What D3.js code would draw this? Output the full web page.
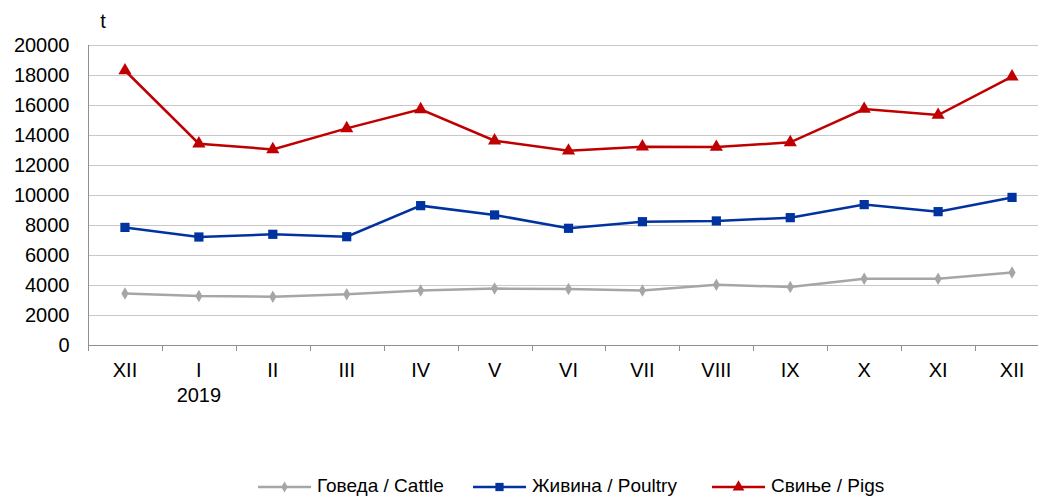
<!DOCTYPE html>
<html><head><meta charset="utf-8">
<script src="https://cdn.jsdelivr.net/npm/d3@7"></script>
<style>body{margin:0;background:#fff}svg{display:block;font-family:"Liberation Sans",Arial,sans-serif}</style>
</head><body><svg id="c" width="1038" height="497"></svg>
<script>
const categories = ["XII","I","II","III","IV","V","VI","VII","VIII","IX","X","XI","XII"];
const cattle  = [3440,3270,3220,3380,3640,3760,3730,3640,4020,3870,4420,4420,4840];
const poultry = [7840,7200,7380,7220,9290,8670,7780,8220,8270,8490,9360,8890,9840];
const pigs    = [18300,13420,13040,14440,15710,13620,12950,13220,13200,13510,15730,15330,17890];
const yTicks  = [0,2000,4000,6000,8000,10000,12000,14000,16000,18000,20000];
const seriesNames = ["Говеда / Cattle","Живина / Poultry","Свиње / Pigs"];

(function(){
const svg = d3.select("#c");
const pL = 88, pR = 1049, pT = 45, pB = 345;
const x = d3.scaleBand().domain(d3.range(categories.length)).range([pL, pR]);
const y = d3.scaleLinear().domain([0,20000]).range([pB, pT]);

const series = [
  {name: seriesNames[0], values: cattle, color: "#A6A6A6", symbol: d3.symbolDiamond, size: 45},
  {name: seriesNames[1], values: poultry, color: "#0033A0", symbol: d3.symbolSquare, size: 85},
  {name: seriesNames[2], values: pigs, color: "#C00000", symbol: d3.symbolTriangle, size: 75}
];

// grid
svg.append("g").selectAll("line").data(yTicks.filter(d=>d>0)).join("line")
  .attr("x1", pL).attr("x2", pR).attr("y1", d=>y(d)+0.5).attr("y2", d=>y(d)+0.5)
  .attr("stroke", "#C8C8C8").attr("stroke-width", 1);

// y axis
const ya = svg.append("g").attr("transform", `translate(${pL+0.5},0)`)
  .call(d3.axisLeft(y).tickValues(yTicks).tickSize(0).tickPadding(19).tickFormat(d=>String(d)));
ya.select(".domain").remove();
ya.selectAll("text").attr("font-size", 20).attr("fill", "#000").attr("font-family", "Liberation Sans, Arial, sans-serif");
svg.append("line").attr("x1", pL+0.5).attr("x2", pL+0.5).attr("y1", pT).attr("y2", pB+6).attr("stroke", "#909090");

// x axis
const xa = svg.append("g").attr("transform", `translate(0,${pB+0.5})`)
  .call(d3.axisBottom(x).tickFormat(i=>categories[i]).tickSize(0).tickPadding(17));
xa.select(".domain").remove();
xa.selectAll("text").attr("font-size", 20).attr("fill", "#000").attr("font-family", "Liberation Sans, Arial, sans-serif");
svg.append("line").attr("x1", pL).attr("x2", pR).attr("y1", pB+0.5).attr("y2", pB+0.5).attr("stroke", "#909090");
svg.append("g").selectAll("line").data(d3.range(categories.length+1)).join("line")
  .attr("x1", i=>Math.round(pL + i*x.step())+0.5).attr("x2", i=>Math.round(pL + i*x.step())+0.5)
  .attr("y1", pB).attr("y2", pB+6).attr("stroke", "#909090");

svg.append("text").attr("x", x(1)+x.bandwidth()/2).attr("y", 402).attr("text-anchor","middle")
  .attr("font-size", 20).text("2019");
svg.append("text").attr("x", 103).attr("y", 28).attr("text-anchor","middle")
  .attr("font-size", 20).text("t");

// lines
const cx = i => x(i) + x.bandwidth()/2;
const line = d3.line().x((d,i)=>cx(i)).y(d=>y(d));
series.forEach(s => {
  svg.append("path").datum(s.values).attr("d", line).attr("fill","none")
    .attr("stroke", s.color).attr("stroke-width", 2.5);
  svg.append("g").selectAll("path").data(s.values).join("path")
    .attr("d", d3.symbol().type(s.symbol).size(s.size))
    .attr("transform", (d,i)=>`translate(${cx(i)},${y(d)})`)
    .attr("fill", s.color);
});

// legend
const legX = [258, 473, 712];
series.forEach((s, k) => {
  const g = svg.append("g").attr("transform", `translate(${legX[k]},487)`);
  g.append("line").attr("x1",0).attr("x2",53).attr("y1",0).attr("y2",0).attr("stroke", s.color).attr("stroke-width",2.5);
  g.append("path").attr("d", d3.symbol().type(s.symbol).size(s.size*0.8)).attr("transform","translate(26.5,0)").attr("fill", s.color);
  g.append("text").attr("x", 59).attr("y", 5).attr("font-size", 19).text(s.name);
});
})();
</script></body></html>
